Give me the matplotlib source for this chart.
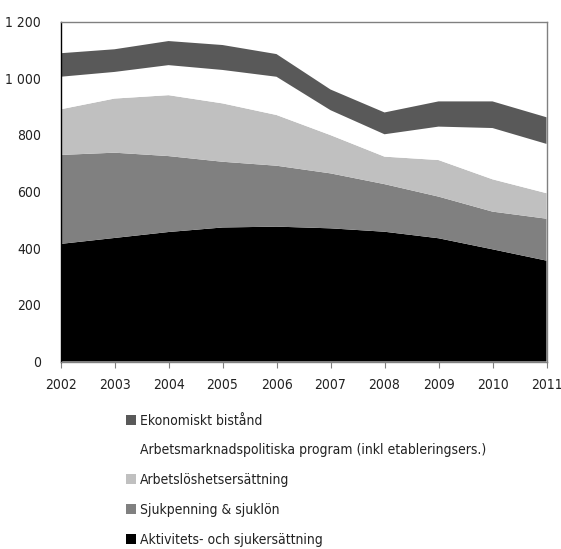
import matplotlib
matplotlib.use("Agg")
import matplotlib.pyplot as plt
from matplotlib import font_manager
from matplotlib.patches import Patch

names = {f.name for f in font_manager.fontManager.ttflist}
if "Liberation Sans Narrow" in names:
    plt.rcParams["font.family"] = ["Liberation Sans Narrow", "DejaVu Sans"]
else:
    plt.rcParams["font.family"] = ["DejaVu Sans"]
    plt.rcParams["font.stretch"] = "condensed"

years = [2002, 2003, 2004, 2005, 2006, 2007, 2008, 2009, 2010, 2011]
aktivitet = [415, 436, 457, 473, 476, 470, 458, 435, 396, 356]
sjukpenning = [314, 301, 268, 232, 215, 194, 168, 147, 133, 148]
arbetsloshet = [161, 191, 215, 206, 179, 135, 97, 129, 114, 90]
amp = [115, 94, 106, 118, 135, 88, 79, 118, 181, 174]
ekonomiskt = [83, 80, 85, 88, 80, 73, 77, 89, 94, 94]

labels = ["Aktivitets- och sjukersättning", "Sjukpenning & sjuklön",
          "Arbetslöshetsersättning",
          "Arbetsmarknadspolitiska program (inkl etableringsers.)",
          "Ekonomiskt bistånd"]
colors = ["#000000", "#808080", "#c0c0c0", "#ffffff", "#595959"]
yticks = [0, 200, 400, 600, 800, 1000, 1200]
ytick_labels = ["0", "200", "400", "600", "800", "1 000", "1 200"]

text_color = "#222222"
fs = 10

fig = plt.figure(figsize=(5.61, 5.49), dpi=100)
ax = fig.add_axes([60.5 / 561, 1 - 361.5 / 549, 486 / 561, 340 / 549])

ax.stackplot(years, aktivitet, sjukpenning, arbetsloshet, amp, ekonomiskt,
             colors=colors, linewidth=0)

ax.set_xlim(2002, 2011)
ax.set_ylim(0, 1200)
ax.set_xticks(years)
ax.set_xticklabels([str(y) for y in years])
ax.set_yticks(yticks)
ax.set_yticklabels(ytick_labels)

ax.tick_params(axis="x", length=4, color="#808080", pad=8, labelsize=fs,
               labelcolor=text_color)
ax.tick_params(axis="y", length=0, pad=14, labelsize=fs,
               labelcolor=text_color)

for side in ["top", "right", "bottom"]:
    ax.spines[side].set_color("#808080")
    ax.spines[side].set_linewidth(1)
ax.spines["left"].set_color("#000000")
ax.spines["left"].set_linewidth(1)
ax.set_zorder(1)

handles = [Patch(facecolor=c, edgecolor="none") for c in colors]
leg = fig.legend(handles[::-1], labels[::-1], loc="upper left",
                 bbox_to_anchor=(120 / 561, 1 - 408 / 549), frameon=False,
                 fontsize=fs, handlelength=0.75, handleheight=0.75,
                 handletextpad=0.3, labelspacing=1.14, borderaxespad=0)
for t in leg.get_texts():
    t.set_color(text_color)

fig.savefig("out.png", dpi=100)
